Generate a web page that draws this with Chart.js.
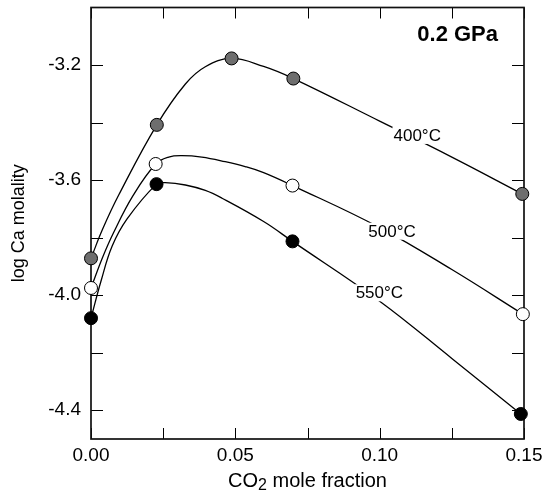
<!DOCTYPE html>
<html>
<head>
<meta charset="utf-8">
<script src="https://cdn.jsdelivr.net/npm/chart.js@4.4.1/dist/chart.umd.min.js"></script>
<style>
    html, body { margin: 0; padding: 0; background: #fff; }
    #wrap { width: 547px; height: 492px; }
</style>
</head>
<body>
<div id="wrap"><canvas id="chart"></canvas></div>
<script>
const FONT = '"Liberation Sans", Arial, Helvetica, sans-serif';

// Axis ticks (every other one labelled)
const xTickValues = [0, 0.025, 0.05, 0.075, 0.10, 0.125, 0.15];
const xTickLabels = ['0.00', '', '0.05', '', '0.10', '', '0.15'];
const yTickValues = [-4.4, -4.2, -4.0, -3.8, -3.6, -3.4, -3.2];
const yTickLabels = ['-4.4', '', '-4.0', '', '-3.6', '', '-3.2'];

// Measured points
const x400 = [0, 0.0228, 0.0487, 0.0701, 0.1494];
const y400 = [-3.872, -3.408, -3.177, -3.247, -3.648];
const x500 = [0, 0.0224, 0.0698, 0.1496];
const y500 = [-3.975, -3.544, -3.619, -4.066];
const x550 = [0, 0.0227, 0.0698, 0.1489];
const y550 = [-4.080, -3.614, -3.813, -4.413];

// Fitted curves
const c400x = [0, 0.004, 0.0096, 0.0228, 0.0327, 0.0396, 0.0487, 0.0598, 0.0701, 0.100, 0.125, 0.1494];
const c400y = [-3.872, -3.771, -3.652, -3.408, -3.266, -3.206, -3.177, -3.205, -3.247, -3.395, -3.520, -3.648];
const c500x = [0, 0.0040, 0.0078, 0.0145, 0.0224, 0.0269, 0.0315, 0.0384, 0.0465, 0.0534, 0.0598, 0.0698, 0.100, 0.125, 0.1496];
const c500y = [-3.975, -3.869, -3.783, -3.655, -3.544, -3.520, -3.515, -3.520, -3.536, -3.553, -3.574, -3.619, -3.765, -3.911, -4.066];
const c550x = [0, 0.0035, 0.0073, 0.0125, 0.0227, 0.0257, 0.0327, 0.0396, 0.0454, 0.0598, 0.0698, 0.100, 0.125, 0.1489];
const c550y = [-4.080, -3.950, -3.830, -3.735, -3.614, -3.609, -3.617, -3.636, -3.663, -3.744, -3.813, -4.021, -4.220, -4.413];

// Curve labels (text centre, data coords)
const curveLabels = [
    { text: '400°C', x: 0.1130, y: -3.443 },
    { text: '500°C', x: 0.1043, y: -3.776 },
    { text: '550°C', x: 0.0999, y: -3.990 }
];

function toPoints(xs, ys) {
    return xs.map((x, i) => ({ x: x, y: ys[i] }));
}

function curve(xs, ys) {
    return {
        data: toPoints(xs, ys),
        showLine: true,
        borderColor: '#000',
        borderWidth: 1.3,
        pointRadius: 0,
        tension: 0.4,
        order: 1
    };
}

function markers(xs, ys, fill) {
    return {
        data: toPoints(xs, ys),
        showLine: false,
        pointRadius: 6.5,
        pointBackgroundColor: fill,
        pointBorderColor: '#000',
        pointBorderWidth: 1,
        clip: false,
        order: 0
    };
}

const framePlugin = {
    id: 'frame',
    beforeDatasetsDraw(chart) {
        const { ctx, chartArea: a, scales: { x, y } } = chart;
        ctx.save();
        ctx.strokeStyle = '#000';
        ctx.lineWidth = 1;
        ctx.beginPath();
        xTickValues.forEach(v => {
            const px = Math.round(x.getPixelForValue(v)) + 0.5;
            ctx.moveTo(px, a.bottom);
            ctx.lineTo(px, a.bottom - 11);
            ctx.moveTo(px, a.top);
            ctx.lineTo(px, a.top + 11);
        });
        yTickValues.forEach(v => {
            const py = Math.round(y.getPixelForValue(v)) + 0.5;
            ctx.moveTo(a.left, py);
            ctx.lineTo(a.left + 12, py);
            ctx.moveTo(a.right, py);
            ctx.lineTo(a.right - 12, py);
        });
        ctx.stroke();
        ctx.lineWidth = 1.7;
        ctx.strokeStyle = '#111';
        ctx.strokeRect(a.left, a.top, a.right - a.left, a.bottom - a.top);
        ctx.restore();
    },
    afterDatasetsDraw(chart) {
        const { ctx, scales: { x, y } } = chart;
        ctx.save();
        ctx.font = '17px ' + FONT;
        ctx.textAlign = 'center';
        ctx.textBaseline = 'alphabetic';
        curveLabels.forEach(l => {
            const cx = x.getPixelForValue(l.x);
            const cy = y.getPixelForValue(l.y);
            const w = ctx.measureText(l.text).width;
            ctx.fillStyle = '#fff';
            ctx.fillRect(cx - w / 2 - 1, cy - 8, w + 2, 17);
            ctx.fillStyle = '#000';
            ctx.fillText(l.text, cx, cy + 6);
        });

        // pressure label
        ctx.font = 'bold 22px ' + FONT;
        ctx.textAlign = 'right';
        ctx.fillText('0.2 GPa', 498, 41);
        ctx.restore();
    },
    afterDraw(chart) {
        const { ctx, chartArea: a } = chart;
        ctx.save();
        ctx.fillStyle = '#000';
        ctx.textBaseline = 'alphabetic';

        // x title with subscript
        const big = '20px ' + FONT;
        const small = '16px ' + FONT;
        ctx.font = big;
        const w1 = ctx.measureText('CO').width;
        const w3 = ctx.measureText(' mole fraction').width;
        ctx.font = small;
        const w2 = ctx.measureText('2').width;
        let tx = (a.left + a.right) / 2 - (w1 + w2 + w3) / 2;
        const base = 486.5;
        ctx.textAlign = 'left';
        ctx.font = big;
        ctx.fillText('CO', tx, base);
        ctx.font = small;
        ctx.fillText('2', tx + w1, base + 3);
        ctx.font = big;
        ctx.fillText(' mole fraction', tx + w1 + w2, base);

        // y title
        ctx.translate(19, (a.top + a.bottom) / 2);
        ctx.rotate(-Math.PI / 2);
        ctx.font = '18px ' + FONT;
        ctx.textAlign = 'center';
        ctx.textBaseline = 'middle';
        ctx.fillText('log Ca molality', 0, 0);
        ctx.restore();
    }
};

new Chart(document.getElementById('chart'), {
    type: 'scatter',
    data: {
        datasets: [
            markers(x400, y400, '#6e6e6e'),
            markers(x500, y500, '#fff'),
            markers(x550, y550, '#000'),
            curve(c400x, c400y),
            curve(c500x, c500y),
            curve(c550x, c550y)
        ]
    },
    options: {
        responsive: true,
        maintainAspectRatio: false,
        animation: false,
        layout: {
            padding: { top: 6, right: 23, bottom: 0, left: 0 }
        },
        plugins: {
            legend: { display: false },
            tooltip: { enabled: false }
        },
        scales: {
            x: {
                type: 'linear',
                min: 0,
                max: 0.15,
                grid: { display: false, drawTicks: false },
                border: { display: false },
                afterBuildTicks: (scale) => {
                    scale.ticks = xTickValues.map(v => ({ value: v }));
                },
                afterFit: (scale) => {
                    scale.height = 53;
                    scale.paddingLeft = 0;
                    scale.paddingRight = 0;
                },
                ticks: {
                    autoSkip: false,
                    maxRotation: 0,
                    padding: 5,
                    color: '#000',
                    font: { family: FONT, size: 19 },
                    callback: (value, index) => xTickLabels[index]
                }
            },
            y: {
                type: 'linear',
                min: -4.5,
                max: -3.0,
                grid: { display: false, drawTicks: false },
                border: { display: false },
                afterBuildTicks: (scale) => {
                    scale.ticks = yTickValues.map(v => ({ value: v }));
                },
                afterFit: (scale) => {
                    scale.width = 91;
                    scale.paddingTop = 0;
                    scale.paddingBottom = 0;
                },
                ticks: {
                    autoSkip: false,
                    padding: 10,
                    color: '#000',
                    font: { family: FONT, size: 19 },
                    callback: (value, index) => yTickLabels[index]
                }
            }
        }
    },
    plugins: [framePlugin]
});
</script>
</body>
</html>
